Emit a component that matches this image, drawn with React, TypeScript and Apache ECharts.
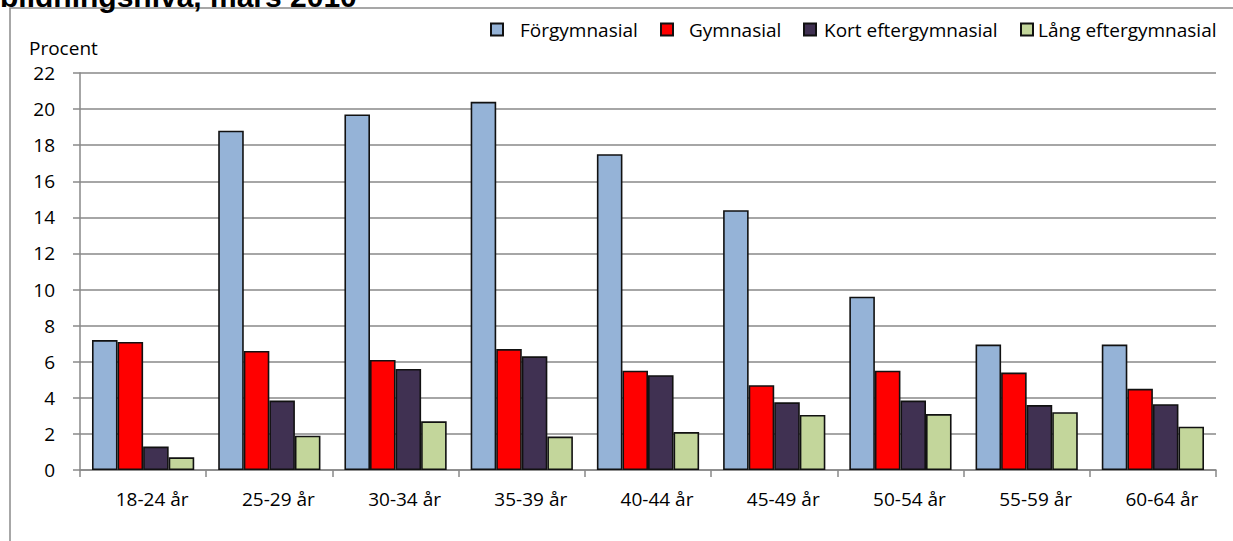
import React, { useEffect, useRef } from "react";
import * as echarts from "echarts";

const categories = ["18-24 år", "25-29 år", "30-34 år", "35-39 år", "40-44 år", "45-49 år", "50-54 år", "55-59 år", "60-64 år"];
const seriesNames = ["Förgymnasial", "Gymnasial", "Kort eftergymnasial", "Lång eftergymnasial"];
const forgymnasial = [7.2, 18.8, 19.7, 20.4, 17.5, 14.4, 9.6, 6.95, 6.95];
const gymnasial = [7.1, 6.6, 6.1, 6.7, 5.5, 4.7, 5.5, 5.4, 4.5];
const kortEfter = [1.3, 3.85, 5.6, 6.3, 5.25, 3.75, 3.85, 3.6, 3.65];
const langEfter = [0.7, 1.9, 2.7, 1.85, 2.1, 3.05, 3.1, 3.2, 2.4];
const colors = ["#95B3D7", "#FF0000", "#403152", "#C3D69B"];
const yTicks = [0, 22, 2];
const titleText = "bildningsnivå, mars 2010";
const yAxisTitle = "Procent";

const FONT = "'Open Sans', sans-serif";

export default function App() {
  const ref = useRef<HTMLDivElement>(null);
  useEffect(() => {
    if (!ref.current) return;
    const chart = echarts.init(ref.current, undefined, { renderer: "svg" });
    const values = [forgymnasial, gymnasial, kortEfter, langEfter];
    const legendLefts = [490, 660, 803, 1020];
    const legendPads = [12, 11, 3, 0];
    chart.setOption({
      animation: false,
      backgroundColor: "#ffffff",
      textStyle: { fontFamily: FONT },
      grid: { left: 80, right: 17, top: 73, bottom: 71, containLabel: false },
      legend: seriesNames.map((n, i) => ({
        data: [n],
        left: legendLefts[i],
        top: 20,
        padding: 0,
        itemWidth: 12,
        itemHeight: 12,
        icon: "rect",
        selectedMode: false,
        textStyle: { fontFamily: FONT, fontSize: 19, color: "#000", padding: [0, 0, 0, legendPads[i]] },
      })),
      xAxis: {
        type: "category",
        data: categories,
        axisLine: { lineStyle: { color: "#888", width: 1.5 } },
        axisTick: { show: true, length: 7, lineStyle: { color: "#888", width: 1.5 } },
        axisLabel: { fontFamily: FONT, fontSize: 19, color: "#000", margin: 19, padding: [0, 0, 0, 18] },
      },
      yAxis: {
        type: "value",
        min: yTicks[0],
        max: yTicks[1],
        interval: yTicks[2],
        axisLine: { show: true, lineStyle: { color: "#888", width: 1.5 } },
        axisTick: { show: true, length: 7, lineStyle: { color: "#888", width: 1.5 } },
        axisLabel: { fontFamily: FONT, fontSize: 19, color: "#000", margin: 25 },
        splitLine: { lineStyle: { color: "#888", width: 1.5 } },
      },
      series: seriesNames.map((n, i) => ({
        name: n,
        type: "bar",
        data: values[i],
        barGap: "0%",
        barCategoryGap: "19%",
        itemStyle: { color: colors[i], borderColor: "#111", borderWidth: 1.6 },
      })),
      graphic: [
        {
          type: "rect",
          shape: { x: 10, y: 8, width: 1400, height: 800 },
          style: { fill: "none", stroke: "#8a8a8a", lineWidth: 1.5 },
          silent: true,
          z: -1,
        },
        {
          type: "text",
          x: 0,
          y: 11,
          style: { text: titleText, fontFamily: "'Liberation Sans', Arial, sans-serif", fontWeight: "bold", fontSize: 30, fill: "#000", verticalAlign: "bottom", align: "left" },
        },
        {
          type: "text",
          x: 29,
          y: 38,
          style: { text: yAxisTitle, fontFamily: FONT, fontSize: 19, fill: "#000", verticalAlign: "top", align: "left" },
        },
      ],
    });
    return () => chart.dispose();
  }, []);
  return <div ref={ref} style={{ position: "fixed", left: 0, top: 0, width: 1233, height: 541 }} />;
}
